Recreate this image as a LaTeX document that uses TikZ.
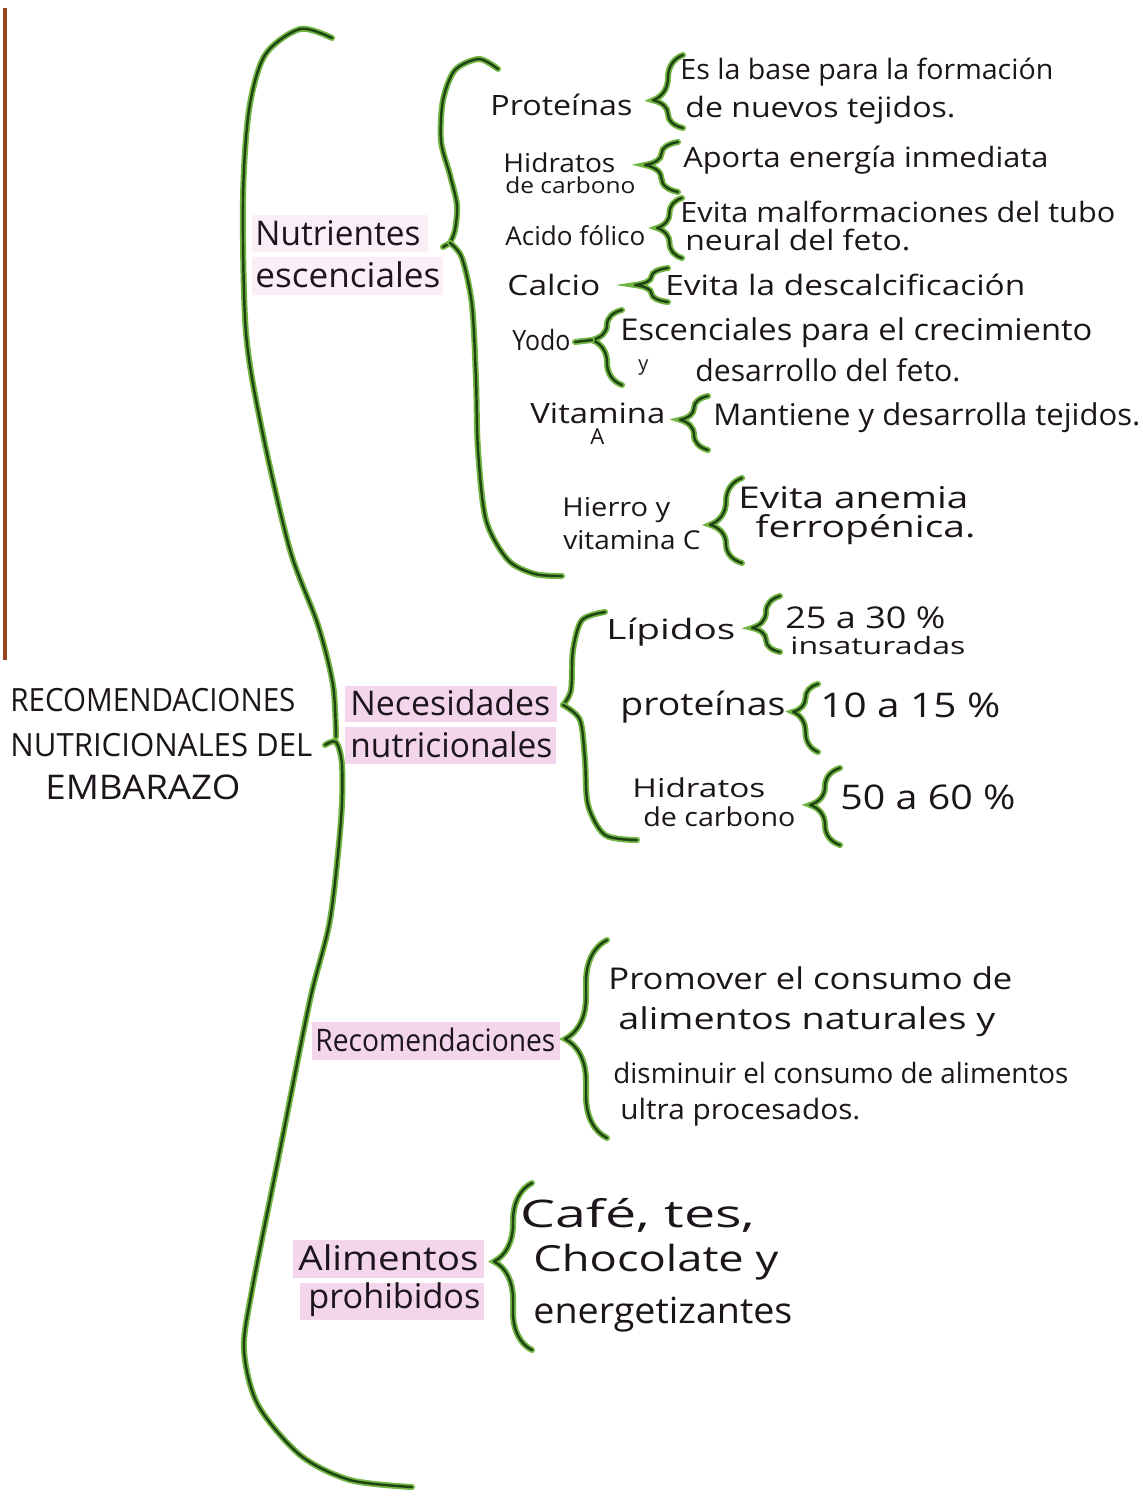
\documentclass[tikz,border=0pt]{standalone}
\usepackage{fontspec}
\setmainfont{Open Sans}
\usetikzlibrary{decorations.pathreplacing}
\newlength\pxu \setlength\pxu{0.5pt}
\newcommand\hw[3]{\resizebox{#1\pxu}{\height}{\fontsize{#2}{#2}\selectfont #3}}
\definecolor{ink}{RGB}{28,22,28}
\definecolor{gdark}{RGB}{30,66,20}
\definecolor{glight}{RGB}{112,180,66}
\definecolor{hlpink}{RGB}{244,214,236}
\definecolor{hlfaint}{RGB}{250,238,247}
\definecolor{edge}{RGB}{150,70,30}
\tikzset{
  t/.style={inner sep=0pt, anchor=west, text=ink},
  gb/.style={draw=gdark, line width=2.4\pxu, line cap=round, line join=round,
    preaction={draw=glight, line width=6\pxu, line cap=round}},
  hl/.style={fill=hlpink, draw=none},
  hlf/.style={fill=hlfaint, draw=none}
}
\newcommand\sbrace[5]{\draw[gb,decorate,decoration={brace,amplitude=#4\pxu,aspect=#5}] (#1,#3) -- (#1,#2);}
\begin{document}
\begin{tikzpicture}[x=0.5pt,y=-0.5pt]
\useasboundingbox[fill=white] (0,0) rectangle (1143,1500);
% paper edge
\draw[edge, line width=4\pxu] (5,8) -- (5,660);
% highlights
\path[hlf] (252,215) rectangle (428,252);
\path[hlf] (252,257) rectangle (443,295);
\path[hl] (345,686) rectangle (557,722);
\path[hl] (345,727) rectangle (556,764);
\path[hl] (312,1022) rectangle (560,1060);
\path[hl] (293,1240) rectangle (484,1278);
\path[hl] (300,1283) rectangle (484,1320);

% main brace
\draw[gb] plot[smooth] coordinates {(332,38) (300,29) (265,55) (249,110) (243,200) (246,333) (262,430) (290,550) (318,625) (333,685) (336,737)};
\draw[gb] plot[smooth] coordinates {(325,745) (336,742) (342,765) (341,820) (330,920) (310,1000) (280,1150) (252,1290) (244,1350) (258,1405) (300,1455) (350,1480) (412,1487)};
% nutrientes brace
\draw[gb] plot[smooth] coordinates {(498,69) (479,59) (455,70) (443,100) (441,141) (450,175) (457,205) (455,230) (450,243)};
\draw[gb] (450,243) -- (443,247);
\draw[gb] plot[smooth] coordinates {(450,243) (462,258) (472,305) (476,380) (478,450) (486,520) (508,560) (535,574) (562,576)};
% necesidades brace
\draw[gb] plot[smooth] coordinates {(605,612) (582,620) (573,650) (571,690) (563,705)};
\draw[gb] plot[smooth] coordinates {(563,705) (580,720) (585,760) (588,805) (605,835) (637,840)};

% small braces: x, ytop, ybot, amplitude, aspect
\sbrace{683}{55}{128}{30}{0.38}
\sbrace{678}{142}{192}{33}{0.54}
\sbrace{682}{198}{258}{25}{0.5}
\sbrace{668}{268}{302}{33}{0.5}
\sbrace{622}{310}{385}{30}{0.6}
\draw[gb] (575,342) -- (592,340);
\sbrace{708}{396}{450}{28}{0.56}
\sbrace{742}{478}{563}{32}{0.45}
\sbrace{780}{596}{652}{28}{0.43}
\sbrace{818}{684}{752}{25}{0.59}
\sbrace{840}{768}{845}{30}{0.52}
\sbrace{607}{940}{1138}{42}{0.5}
\sbrace{532}{1183}{1350}{38}{0.53}

% title
\node[t] (t1) at (10,700) {\hw{285}{16}{RECOMENDACIONES}};
\node[t] (t2) at (10,745) {\hw{302}{16}{NUTRICIONALES DEL}};
\node[t] (t3) at (45,787) {\hw{195}{17}{EMBARAZO}};
% categories
\node[t] (c1a) at (255,233) {\hw{165}{17}{Nutrientes}};
\node[t] (c1b) at (255,275) {\hw{185}{17}{escenciales}};
\node[t] (c2a) at (350,703) {\hw{200}{17}{Necesidades}};
\node[t] (c2b) at (350,745) {\hw{202}{17}{nutricionales}};
\node[t] (c3) at (315,1040) {\hw{240}{15.5}{Recomendaciones}};
\node[t] (c4a) at (298,1258) {\hw{180}{17}{Alimentos}};
\node[t] (c4b) at (308,1300) {\hw{172}{17}{prohibidos}};
% nutrient items
\node[t] (p1) at (490,105) {\hw{142}{14}{Proteínas}};
\node[t] (h1a) at (503,163) {\hw{112}{13}{Hidratos}};
\node[t] (h1b) at (505,185) {\hw{130}{11}{de carbono}};
\node[t] (a1) at (505,236) {\hw{140}{13}{Acido fólico}};
\node[t] (ca) at (507,285) {\hw{93}{14}{Calcio}};
\node[t] (yo) at (512,340) {\hw{58}{14}{Yodo}};
\node[t] (v1a) at (530,413) {\hw{135}{14}{Vitamina}};
\node[t] (v1b) at (590,437) {\hw{14}{11}{A}};
\node[t] (hi1) at (562,510) {\hw{108}{13}{Hierro y}};
\node[t] (hi2) at (563,540) {\hw{137}{13}{vitamina C}};
% descriptions
\node[t] (d1a) at (680,72) {\hw{373}{14}{Es la base para la formación}};
\node[t] (d1b) at (685,110) {\hw{270}{14}{de nuevos tejidos.}};
\node[t] (d2) at (683,160) {\hw{365}{14}{Aporta energía inmediata}};
\node[t] (d3a) at (680,212) {\hw{435}{14}{Evita malformaciones del tubo}};
\node[t] (d3b) at (685,240) {\hw{225}{14}{neural del feto.}};
\node[t] (d4) at (665,285) {\hw{360}{14}{Evita la descalcificación}};
\node[t] (d5a) at (620,333) {\hw{472}{15}{Escenciales para el crecimiento}};
\node[t] (d5y) at (638,368) {\hw{10}{10}{y}};
\node[t] (d5b) at (695,370) {\hw{265}{15}{desarrollo del feto.}};
\node[t] (d6) at (713,418) {\hw{427}{15}{Mantiene y desarrolla tejidos.}};
\node[t] (d7a) at (738,498) {\hw{230}{15}{Evita anemia}};
\node[t] (d7b) at (755,530) {\hw{220}{15}{ferropénica.}};
% necesidades
\node[t] (n1) at (606,632) {\hw{129}{14}{Lípidos}};
\node[t] (n1a) at (785,618) {\hw{160}{15}{25 a 30 \%}};
\node[t] (n1b) at (790,645) {\hw{175}{12}{insaturadas}};
\node[t] (n2) at (620,707) {\hw{165}{16}{proteínas}};
\node[t] (n2a) at (820,705) {\hw{180}{17}{10 a 15 \%}};
\node[t] (n3a) at (632,788) {\hw{133}{13}{Hidratos}};
\node[t] (n3b) at (643,817) {\hw{152}{13}{de carbono}};
\node[t] (n3c) at (840,797) {\hw{175}{17}{50 a 60 \%}};
% recomendaciones
\node[t] (r1) at (608,978) {\hw{404}{15}{Promover el consumo de}};
\node[t] (r2) at (618,1022) {\hw{377}{15}{alimentos naturales y}};
\node[t] (r3) at (613,1073) {\hw{455}{14}{disminuir el consumo de alimentos}};
\node[t] (r4) at (620,1112) {\hw{240}{14}{ultra procesados.}};
% alimentos prohibidos
\node[t] (f1) at (520,1215) {\hw{235}{19}{Café, tes,}};
\node[t] (f2) at (533,1262) {\hw{245}{18}{Chocolate y}};
\node[t] (f3) at (533,1315) {\hw{259}{18}{energetizantes}};
\end{tikzpicture}
\end{document}
